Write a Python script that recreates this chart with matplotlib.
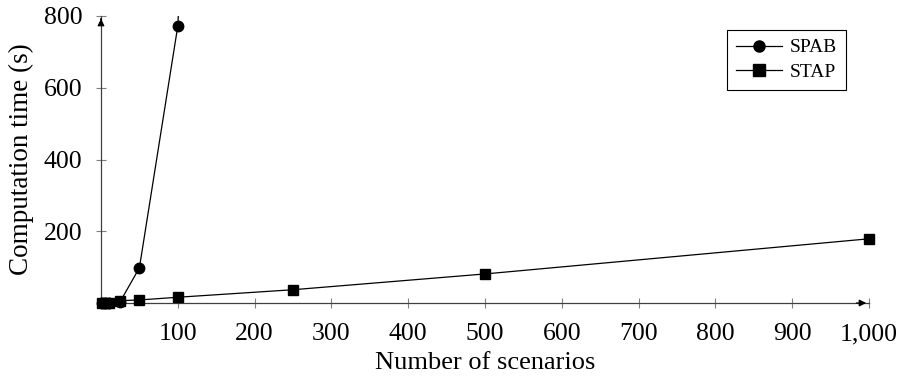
import matplotlib.pyplot as plt
from matplotlib.lines import Line2D
from matplotlib.ticker import FuncFormatter

plt.rcParams['font.family'] = ['Liberation Serif', 'DejaVu Serif']

# Tempo de computação por número de cenários
cenarios_spab = [1, 5, 10, 25, 50, 100, 250]
tempo_spab = [0, 0.5, 1, 4, 98, 772, 7200]
cenarios_stap = [1, 5, 10, 25, 50, 100, 250, 500, 1000]
tempo_stap = [0, 0.5, 1, 6.5, 8.5, 16, 37, 81, 179]

xticks = [100, 200, 300, 400, 500, 600, 700, 800, 900, 1000]
yticks = [200, 400, 600, 800]

fig = plt.figure(figsize=(9.02, 3.76), dpi=100)
ax = fig.add_axes([101 / 902, 1 - 303 / 376, 768 / 902, 287 / 376])

# SPAB: linha recortada no limite superior, marcadores só onde cabem
ax.plot(cenarios_spab, tempo_spab, color='black', lw=0.9)
vis = [(x, y) for x, y in zip(cenarios_spab, tempo_spab) if y <= 800]
ax.plot([p[0] for p in vis], [p[1] for p in vis], ls='none', marker='o',
        ms=7.5, color='black', clip_on=False, zorder=3)

ax.plot(cenarios_stap, tempo_stap, color='black', lw=0.9, marker='s',
        ms=7.5, clip_on=False, zorder=3)

ax.set_xlim(0, 1000)
ax.set_ylim(0, 800)
ax.set_xticks(xticks)
ax.set_yticks(yticks)
ax.xaxis.set_major_formatter(FuncFormatter(lambda v, p: f'{int(v):,}'))
ax.tick_params(direction='inout', length=7, width=0.8, color='#808080',
               labelsize=18.5)
ax.tick_params(axis='x', pad=11)
ax.tick_params(axis='y', pad=10)

for s in ['top', 'right']:
    ax.spines[s].set_visible(False)
for s in ['left', 'bottom']:
    ax.spines[s].set_color('#404040')
    ax.spines[s].set_linewidth(0.9)

# setas nos eixos
ax.annotate('', xy=(1, 0), xytext=(0.98, 0), xycoords='axes fraction',
            arrowprops=dict(arrowstyle='-|>', color='black', lw=0.9,
                            mutation_scale=10))
ax.annotate('', xy=(0, 1), xytext=(0, 0.98), xycoords='axes fraction',
            arrowprops=dict(arrowstyle='-|>', color='black', lw=0.9,
                            mutation_scale=10))

ax.set_xlabel('Number of scenarios', fontsize=19, labelpad=5)
ax.set_ylabel('Computation time (s)', fontsize=19.5, labelpad=7)

handles = [Line2D([], [], color='black', lw=0.9, marker='o', ms=8),
           Line2D([], [], color='black', lw=0.9, marker='s', ms=8)]
leg = ax.legend(handles, ['SPAB', 'STAP'], loc='upper left',
                bbox_to_anchor=((727 - 101) / 768, (303 - 30) / 287),
                fontsize=14, fancybox=False, edgecolor='black', framealpha=1,
                handlelength=2.4, handletextpad=0.4, borderpad=0.45,
                labelspacing=0.35, borderaxespad=0)
leg.get_frame().set_linewidth(0.8)

plt.savefig('out.png', dpi=100)
